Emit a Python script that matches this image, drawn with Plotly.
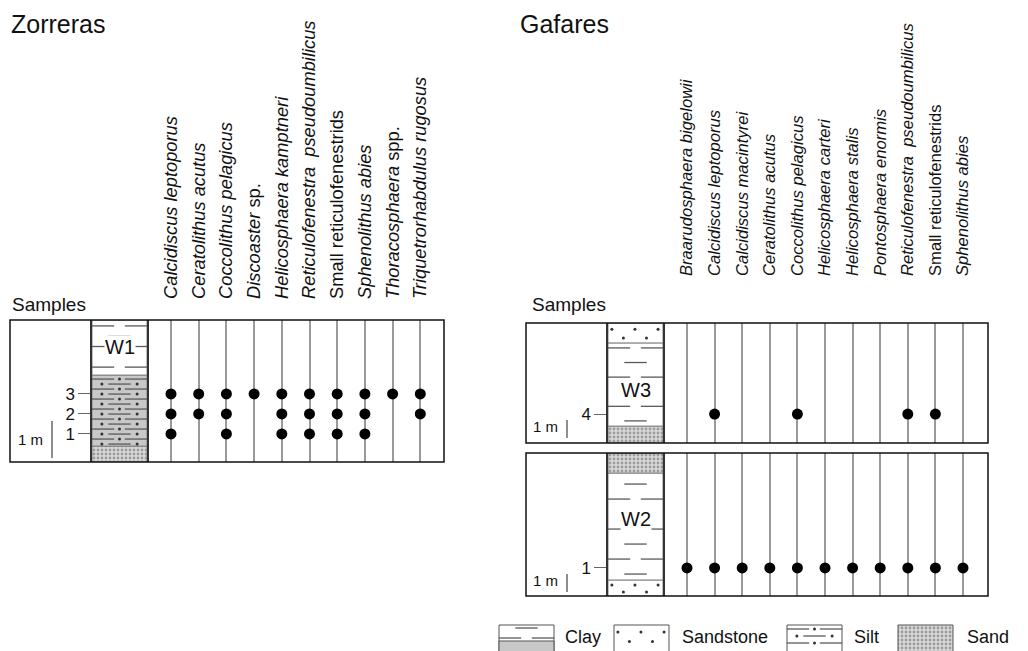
import plotly.graph_objects as go

W, H = 1028, 651
PAD = 8                      # default page margin around the plot div
FONT = "Liberation Sans, Arial, sans-serif"

# ---------------- data ----------------
z_species = ["<i>Calcidiscus leptoporus</i>", "<i>Ceratolithus acutus</i>",
             "<i>Coccolithus pelagicus</i>", "<i>Discoaster</i> sp.",
             "<i>Helicosphaera kamptneri</i>", "<i>Reticulofenestra  pseudoumbilicus</i>",
             "Small reticulofenestrids", "<i>Sphenolithus abies</i>",
             "<i>Thoracosphaera</i> spp.", "<i>Triquetrorhabdulus rugosus</i>"]
z_samples = ["1", "2", "3"]
z_sample_m = [0.76, 1.30, 1.84]
z_found = [["1", "2", "3"], ["2", "3"], ["1", "2", "3"], ["3"], ["1", "2", "3"],
           ["1", "2", "3"], ["1", "2", "3"], ["1", "2", "3"], ["3"], ["2", "3"]]
z_layers = [("sand", 0.0, 0.43), ("silt", 0.43, 2.35), ("clay", 2.35, 3.84)]

g_species = ["<i>Braarudosphaera bigelowii</i>", "<i>Calcidiscus leptoporus</i>",
             "<i>Calcidiscus macintyrei</i>", "<i>Ceratolithus acutus</i>",
             "<i>Coccolithus pelagicus</i>", "<i>Helicosphaera carteri</i>",
             "<i>Helicosphaera stalis</i>", "<i>Pontosphaera enormis</i>",
             "<i>Reticulofenestra  pseudoumbilicus</i>", "Small reticulofenestrids",
             "<i>Sphenolithus abies</i>"]
w3_samples = ["4"]
w3_sample_m = [1.61]
w3_found = [[], ["4"], [], [], ["4"], [], [], [], ["4"], ["4"], []]
w3_layers = [("sand", 0.0, 0.94), ("clay", 0.94, 5.56), ("sandstone", 5.56, 6.67)]

w2_samples = ["1"]
w2_sample_m = [1.56]
w2_found = [["1"]] * 11
w2_layers = [("sandstone", 0.0, 0.89), ("clay", 0.89, 6.83), ("sand", 6.83, 7.94)]

legend_names = ["Clay", "Sandstone", "Silt", "Sand"]
legend_kinds = ["clay", "sandstone", "silt", "sand"]

# ---------------- helpers ----------------
def fx(px):
    return (px - PAD) / W

def fy(py):
    return 1 - (py - PAD) / H

STYLE = {
    "clay": dict(color="white"),
    "silt": dict(color="#c8c8c8"),
    "sandstone": dict(color="white"),
    "sand": dict(color="#d9d9d9",
                 pattern=dict(shape=".", fgcolor="#5f5f5f", bgcolor="#d9d9d9",
                              size=4, solidity=0.4)),
}


def pattern(kind, thick_px, step=10, first=5, side=True):
    # (x fraction, px offset from top, symbol) for the lithology ornament
    out = []
    if kind == "clay":
        off = first
        while off < thick_px - 3:
            if side:
                out += [(0.2, off, "d"), (0.8, off, "d")]
            else:
                out += [(0.5, off, "d")]
            side = not side
            off += step
    elif kind == "silt":
        off = first
        while off < thick_px - 2:
            if side:
                out += [(0.2, off, "d"), (0.5, off, "o"), (0.8, off, "d")]
            else:
                out += [(0.18, off, "o"), (0.5, off, "d"), (0.82, off, "o")]
            side = not side
            off += step
    elif kind == "sandstone":
        r1, r2 = thick_px * 0.32, thick_px * 0.75
        out += [(0.07, r1, "o"), (0.49, r1, "o"), (0.91, r1, "o"),
                (0.28, r2, "o"), (0.7, r2, "o")]
    return out


def add_marks(fig, marks, xmap, ymap, xa, ya):
    dx = [xmap(m[0]) for m in marks if m[2] == "d"]
    dy = [ymap(m[1]) for m in marks if m[2] == "d"]
    ox = [xmap(m[0]) for m in marks if m[2] == "o"]
    oy = [ymap(m[1]) for m in marks if m[2] == "o"]
    fig.add_trace(go.Scatter(x=dx, y=dy, mode="markers", xaxis=xa, yaxis=ya,
                             marker=dict(symbol="line-ew", size=16,
                                         line=dict(color="#5a5a5a", width=1.3)),
                             hoverinfo="skip", showlegend=False))
    fig.add_trace(go.Scatter(x=ox, y=oy, mode="markers", xaxis=xa, yaxis=ya,
                             marker=dict(symbol="circle", size=3, color="#333"),
                             hoverinfo="skip", showlegend=False))


def add_column(fig, layers, xa, ya, scale, opts):
    for kind, b, t in layers:
        fig.add_trace(go.Bar(x=[0.5], y=[t - b], base=[b], width=[1],
                             marker=dict(**STYLE[kind], line=dict(color="#808080", width=1)),
                             xaxis=xa, yaxis=ya, hoverinfo="skip", showlegend=False))
        o = opts.get(kind, {})
        marks = pattern(kind, (t - b) * scale, **o)
        add_marks(fig, marks, lambda f: f, lambda off, t=t: t - off / scale, xa, ya)


def add_dots(fig, found, samples, heights, xa, ya):
    xs, ys = [], []
    for i, present in enumerate(found):
        for s in present:
            xs.append(i)
            ys.append(heights[samples.index(s)])
    fig.add_trace(go.Scatter(x=xs, y=ys, mode="markers", xaxis=xa, yaxis=ya,
                             marker=dict(size=11, color="black"),
                             hoverinfo="skip", showlegend=False))


fig = go.Figure()

# Zorreras
Z_SCALE = 37.0
add_column(fig, z_layers, "x", "y", Z_SCALE,
           {"clay": dict(step=10.3, first=6, side=True),
            "silt": dict(step=5, first=4, side=True)})
add_dots(fig, z_found, z_samples, z_sample_m, "x2", "y")

# Gafares
G_SCALE = 18.0
add_column(fig, w3_layers, "x3", "y2", G_SCALE,
           {"clay": dict(step=14.6, first=5, side=True)})
add_dots(fig, w3_found, w3_samples, w3_sample_m, "x4", "y2")
add_column(fig, w2_layers, "x5", "y3", G_SCALE,
           {"clay": dict(step=15, first=11, side=False)})
add_dots(fig, w2_found, w2_samples, w2_sample_m, "x6", "y3")

# legend swatches (pixel axis)
sw_left = [499, 614, 787, 898]
txt_left = [563, 680, 852, 965]
SW_W, SW_TOP = 55, 625
for k, x0 in zip(legend_kinds, sw_left):
    sty = dict(STYLE[k])
    if k == "silt":
        sty = dict(color="white")
    fig.add_trace(go.Bar(x=[x0 + SW_W / 2], y=[30], base=[SW_TOP], width=[SW_W],
                         marker=dict(**sty, line=dict(color="#555", width=1)),
                         xaxis="x7", yaxis="y4", hoverinfo="skip", showlegend=False))
    if k == "clay":
        fig.add_trace(go.Bar(x=[x0 + SW_W / 2], y=[16], base=[SW_TOP + 16], width=[SW_W],
                             marker=dict(color="#c8c8c8", line=dict(color="#555", width=1)),
                             xaxis="x7", yaxis="y4", hoverinfo="skip", showlegend=False))
    opts = {"clay": dict(step=10, first=3, side=False),
            "silt": dict(step=7, first=4, side=True)}.get(k, {})
    marks = pattern(k, 22, **opts)
    add_marks(fig, marks, lambda f, x0=x0: x0 + f * SW_W, lambda off: SW_TOP + off, "x7", "y4")


def species_axis(dom, first, pitch, n, anchor, labels, standoff, size):
    return dict(domain=[fx(dom[0]), fx(dom[1])],
                range=[(dom[0] - first) / pitch, (dom[1] - first) / pitch],
                anchor=anchor, side="top", tickmode="array",
                tickvals=list(range(n)), ticktext=labels if labels else [""] * n,
                showticklabels=bool(labels), tickangle=-90, ticks="",
                ticklabelstandoff=standoff,
                tickfont=dict(family=FONT, size=size, color="#111"),
                showgrid=True, gridcolor="#9a9a9a", gridwidth=1.5,
                zeroline=False, showline=False, fixedrange=True)


def litho_axis(dom, anchor):
    return dict(domain=[fx(dom[0]), fx(dom[1])], range=[0, 1], anchor=anchor,
                visible=False, fixedrange=True)


def depth_axis(top, bottom, scale, anchor, samples, heights):
    return dict(domain=[fy(bottom), fy(top)], range=[0, (bottom - top) / scale],
                anchor=anchor, showline=True, mirror=True, linecolor="#333",
                linewidth=1.5, ticks="outside", ticklen=12, tickcolor="#666",
                tickwidth=1, tickmode="array", tickvals=heights, ticktext=samples,
                tickfont=dict(family=FONT, size=17, color="#111"),
                showgrid=False, zeroline=False, fixedrange=True)


Z_BOX = (10, 320, 444, 462)
W3_BOX = (526, 323, 988, 443)
W2_BOX = (526, 453, 988, 596)

fig.update_layout(
    width=W, height=H, margin=dict(l=0, r=0, t=0, b=0),
    paper_bgcolor="white", plot_bgcolor="rgba(0,0,0,0)",
    barmode="overlay", showlegend=False,
    font=dict(family=FONT, color="#111"),
    xaxis=litho_axis((92, 147), "y"),
    xaxis2=species_axis((147, 444), 171, 27.7, len(z_species), "y", z_species, 20, 18.3),
    xaxis3=litho_axis((608, 663), "y2"),
    xaxis4=species_axis((663, 988), 687, 27.6, len(g_species), "y2", g_species, 46, 16.6),
    xaxis5=litho_axis((608, 663), "y3"),
    xaxis6=species_axis((663, 988), 687, 27.6, len(g_species), "y3", None, 0, 16.6),
    xaxis7=dict(domain=[0, 1], range=[PAD, W + PAD], anchor="y4", visible=False,
                fixedrange=True),
    yaxis=depth_axis(320, 462, Z_SCALE, "x", z_samples, z_sample_m),
    yaxis2=depth_axis(323, 443, G_SCALE, "x3", w3_samples, w3_sample_m),
    yaxis3=depth_axis(453, 596, G_SCALE, "x5", w2_samples, w2_sample_m),
    yaxis4=dict(domain=[0, fy(618)], range=[H + PAD, 618], anchor="x7", visible=False,
                fixedrange=True),
)

shapes = []
for x0, y0, x1, y1 in (Z_BOX, W3_BOX, W2_BOX):
    shapes.append(dict(type="rect", xref="paper", yref="paper", x0=fx(x0), x1=fx(x1),
                       y0=fy(y1), y1=fy(y0), line=dict(color="#111", width=1.5)))
# 1 m scale bars
for xp, ya, b in ((52, "y", 0.11), (567, "y2", 0.28), (567, "y3", 0.22)):
    shapes.append(dict(type="line", xref="paper", yref=ya, x0=fx(xp), x1=fx(xp),
                       y0=b, y1=b + 1, line=dict(color="#444", width=1.2)))
fig.update_layout(shapes=shapes)

ann = []
ann.append(dict(text="Zorreras", x=fx(9), y=fy(24), xref="paper", yref="paper",
                xanchor="left", yanchor="middle", showarrow=False, font=dict(size=25)))
ann.append(dict(text="Gafares", x=fx(518), y=fy(24), xref="paper", yref="paper",
                xanchor="left", yanchor="middle", showarrow=False, font=dict(size=25)))
for xp in (10, 530):
    ann.append(dict(text="Samples", x=fx(xp), y=fy(304), xref="paper", yref="paper",
                    xanchor="left", yanchor="middle", showarrow=False, font=dict(size=19)))
for xp, ya, yy in ((45, "y", 0.6), (560, "y2", 0.9), (560, "y3", 0.85)):
    ann.append(dict(text="1 m", x=fx(xp), y=yy, xref="paper", yref=ya,
                    xanchor="right", yanchor="middle", showarrow=False, font=dict(size=15)))
for lab, xa, ya, yy in (("W1", "x", "y", 3.1), ("W3", "x3", "y2", 2.94), ("W2", "x5", "y3", 4.28)):
    ann.append(dict(text=lab, x=0.5, y=yy, xref=xa, yref=ya, showarrow=False,
                    bgcolor="white", borderpad=0, font=dict(size=20)))
for name, xp in zip(legend_names, txt_left):
    ann.append(dict(text=name, x=fx(xp), y=fy(637), xref="paper", yref="paper",
                    xanchor="left", yanchor="middle", showarrow=False, font=dict(size=18)))
fig.update_layout(annotations=ann)

fig.write_html("out.html")
